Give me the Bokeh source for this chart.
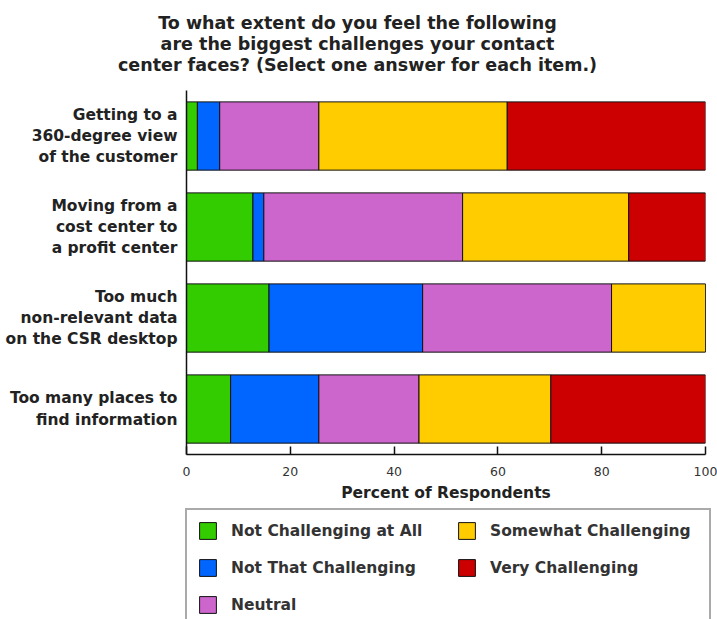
from bokeh.plotting import figure
from bokeh.layouts import column
from bokeh.models import Range1d, FactorRange, Legend, LegendItem, Label, FixedTicker, ColumnDataSource
from bokeh.embed import file_html
from bokeh.resources import INLINE

# ---- data ----
categories = [
    "Getting to a\n360-degree view\nof the customer",
    "Moving from a\ncost center to\na profit center",
    "Too much\nnon-relevant data\non the CSR desktop",
    "Too many places to\nfind information",
]
series_names = ["Not Challenging at All", "Not That Challenging", "Neutral",
                "Somewhat Challenging", "Very Challenging"]
not_challenging = [2.1, 12.8, 15.9, 8.5]
not_that = [4.3, 2.1, 29.6, 17.0]
neutral = [19.1, 38.3, 36.4, 19.3]
somewhat = [36.3, 32.0, 18.1, 25.4]
very = [38.2, 14.8, 0.0, 29.8]
x_ticks = [0, 20, 40, 60, 80, 100]
title_lines = [
    "To what extent do you feel the following",
    "are the biggest challenges your contact",
    "center faces? (Select one answer for each item.)",
]
x_label = "Percent of Respondents"
colors = ["#33CC00", "#0066FF", "#CC66CC", "#FFCC00", "#CC0000"]

FONT = "DejaVu Sans"
TXT = "#222222"
W = 717

# ---------- title figure ----------
TH = 80
pt = figure(width=W, height=TH, output_backend="svg", toolbar_location=None,
            x_range=Range1d(0, W), y_range=Range1d(TH, 0),
            x_axis_type=None, y_axis_type=None, frame_align=False,
            min_border_left=0, min_border_right=0, min_border_top=0, min_border_bottom=0)
pt.grid.visible = False
pt.outline_line_color = None
title_y = [22, 43, 64]
for t, yy in zip(title_lines, title_y):
    pt.add_layout(Label(x=357, y=yy, text=t, text_align="center", text_baseline="middle",
                        text_font=FONT, text_font_size="17.5px", text_font_style="bold",
                        text_color=TXT))

# ---------- main chart ----------
src = ColumnDataSource(dict(
    cat=categories,
    s0=not_challenging, s1=not_that, s2=neutral, s3=somewhat, s4=very,
))

MH = 425
p = figure(width=W, height=MH, output_backend="svg", toolbar_location=None,
           x_range=Range1d(0, 100), y_range=FactorRange(factors=list(reversed(categories))),
           min_border_left=186, min_border_right=12, min_border_top=10,
           min_border_bottom=51)

rs = p.hbar_stack(["s0", "s1", "s2", "s3", "s4"], y="cat", height=0.75, source=src,
                  color=colors, line_color="#111111", line_width=1)

p.xgrid.visible = False
p.ygrid.visible = False
p.outline_line_color = None

xa = p.xaxis[0]
xa.ticker = FixedTicker(ticks=x_ticks)
xa.major_tick_in = 8
xa.major_tick_out = 0
xa.minor_tick_line_color = None
xa.axis_line_color = "#111111"
xa.axis_line_width = 1.5
xa.major_tick_line_color = "#111111"
xa.major_tick_line_width = 1.5
xa.major_label_text_font = FONT
xa.major_label_text_font_size = "12.5px"
xa.major_label_text_color = "#333333"
xa.major_label_standoff = 12
xa.axis_label = x_label
xa.axis_label_text_font = FONT
xa.axis_label_text_font_size = "15.5px"
xa.axis_label_text_font_style = "bold"
xa.axis_label_text_color = TXT
xa.axis_label_standoff = 5

ya = p.yaxis[0]
ya.major_tick_line_color = None
ya.minor_tick_line_color = None
ya.axis_line_color = "#111111"
ya.axis_line_width = 1.5
ya.major_label_text_font = FONT
ya.major_label_text_font_size = "15.5px"
ya.major_label_text_font_style = "bold"
ya.major_label_text_color = TXT
ya.major_label_text_line_height = 1.17
ya.major_label_standoff = 3

# ---------- legend figure ----------
LH = 619 - TH - MH
pl = figure(width=W, height=LH, output_backend="svg", toolbar_location=None,
            x_range=Range1d(0, 1), y_range=Range1d(0, 1),
            x_axis_type=None, y_axis_type=None, frame_align=False,
            min_border_left=0, min_border_right=0, min_border_top=0, min_border_bottom=0)
pl.grid.visible = False
pl.outline_line_color = None
lrs = [pl.hbar(y=[50.0], left=[50.0], right=[51.0], height=0.5,
               fill_color=c, line_color="#111111", line_width=1) for c in colors]

items = [LegendItem(label=n, renderers=[r]) for n, r in zip(series_names, lrs)]
legend = Legend(items=items, location=(185, -8), orientation="vertical", ncols=2,
                glyph_width=21, glyph_height=21, label_height=21, label_width=209,
                label_text_font=FONT, label_text_font_size="15.5px",
                label_text_font_style="bold", label_text_color="#333333",
                label_standoff=13, spacing=16, padding=10, margin=0,
                border_line_color="#555555", border_line_width=2,
                background_fill_alpha=1)
pl.add_layout(legend, "center")

layout = column(pt, p, pl, spacing=0)
open("out.html", "w").write(file_html(layout, INLINE))
